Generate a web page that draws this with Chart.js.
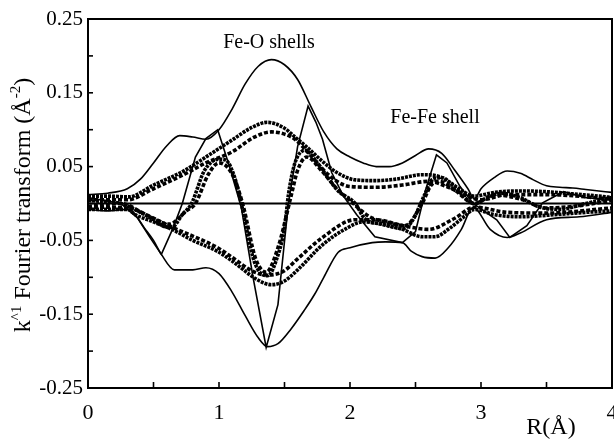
<!DOCTYPE html>
<html>
<head>
<meta charset="utf-8">
<title>Fourier transform</title>
<script src="https://cdn.jsdelivr.net/npm/chart.js@4.4.1/dist/chart.umd.min.js"></script>
<style>
    html, body { margin: 0; padding: 0; background: #fff; }
    #wrap { width: 614px; height: 441px; }
</style>
</head>
<body>
<div id="wrap"><canvas id="ft" width="614" height="441"></canvas></div>
<script>
// Values (R in Å, FT in Å^-2)

// thin outer envelope, upper (fit magnitude)
const thinUpperX = [0, 0.15, 0.3, 0.4, 0.5, 0.6, 0.7, 0.8, 0.9, 1.0, 1.1, 1.2, 1.3, 1.4, 1.5, 1.6, 1.7, 1.8, 1.9, 2.0, 2.1, 2.2, 2.3, 2.4, 2.5, 2.6, 2.7, 2.8, 2.9, 2.95, 3.0, 3.1, 3.2, 3.3, 3.4, 3.5, 3.6, 3.7, 3.8, 3.9, 4.0];
const thinUpperY = [0.012, 0.014, 0.02, 0.033, 0.055, 0.078, 0.092, 0.09, 0.087, 0.1, 0.128, 0.162, 0.186, 0.195, 0.188, 0.168, 0.132, 0.097, 0.074, 0.063, 0.055, 0.05, 0.05, 0.055, 0.065, 0.074, 0.068, 0.045, 0.02, 0.006, 0.02, 0.035, 0.044, 0.041, 0.032, 0.024, 0.022, 0.021, 0.019, 0.017, 0.015];

// thin outer envelope, lower
const thinLowerX = [0, 0.15, 0.3, 0.34, 0.43, 0.5, 0.56, 0.66, 0.8, 0.9, 1.0, 1.1, 1.2, 1.3, 1.37, 1.45, 1.55, 1.65, 1.73, 1.8, 1.91, 2.0, 2.17, 2.27, 2.4, 2.47, 2.55, 2.65, 2.75, 2.85, 2.94, 3.07, 3.2, 3.3, 3.5, 3.75, 4.0];
const thinLowerY = [-0.008, -0.01, -0.008, -0.011, -0.033, -0.05, -0.069, -0.09, -0.09, -0.087, -0.095, -0.12, -0.152, -0.182, -0.194, -0.19, -0.17, -0.145, -0.123, -0.1, -0.066, -0.06, -0.053, -0.052, -0.053, -0.065, -0.072, -0.074, -0.06, -0.035, -0.005, -0.035, -0.046, -0.04, -0.022, -0.018, -0.012];

// thin oscillating curve (fit imaginary part)
const thinOscX = [0, 0.25, 0.38, 0.47, 0.56, 0.65, 0.72, 0.82, 0.9, 0.99, 1.08, 1.17, 1.26, 1.36, 1.45, 1.53, 1.6, 1.68, 1.74, 1.79, 1.86, 1.95, 2.05, 2.19, 2.4, 2.5, 2.58, 2.66, 2.74, 2.84, 2.94, 3.12, 3.22, 3.35, 3.47, 3.63, 3.8, 4.0];
const thinOscY = [0.008, 0.0, -0.02, -0.045, -0.069, -0.033, 0.0, 0.063, 0.088, 0.1, 0.05, -0.005, -0.1, -0.195, -0.137, 0.0, 0.077, 0.132, 0.11, 0.087, 0.042, 0.01, -0.015, -0.045, -0.053, -0.038, 0.02, 0.066, 0.055, 0.023, 0.0, -0.022, -0.046, -0.03, 0.001, 0.016, 0.008, 0.005];

// thick dotted envelopes (data magnitude)
const thickUpper1X = [0, 0.15, 0.31, 0.5, 0.74, 0.9, 1.1, 1.25, 1.37, 1.5, 1.58, 1.68, 1.79, 1.9, 2.04, 2.2, 2.35, 2.55, 2.65, 2.75, 2.85, 2.95, 3.1, 3.3, 3.5, 3.7, 3.9, 4.0];
const thickUpper1Y = [0.01, 0.01, 0.009, 0.025, 0.045, 0.063, 0.086, 0.103, 0.11, 0.102, 0.09, 0.075, 0.057, 0.042, 0.032, 0.031, 0.033, 0.039, 0.038, 0.03, 0.018, 0.01, 0.015, 0.017, 0.016, 0.013, 0.01, 0.008];

const thickUpper2X = [0, 0.3, 0.5, 0.74, 0.9, 1.1, 1.27, 1.4, 1.5, 1.58, 1.7, 1.8, 1.9, 2.0, 2.2, 2.4, 2.6, 2.75, 2.9, 3.0, 3.2, 3.5, 4.0];
const thickUpper2Y = [0.005, 0.005, 0.02, 0.04, 0.055, 0.07, 0.09, 0.097, 0.094, 0.087, 0.065, 0.045, 0.03, 0.023, 0.022, 0.025, 0.03, 0.022, 0.01, 0.005, 0.012, 0.012, 0.006];

const thickLower1X = [0, 0.3, 0.36, 0.5, 0.64, 0.8, 0.99, 1.1, 1.3, 1.4, 1.5, 1.6, 1.79, 1.98, 2.1, 2.29, 2.4, 2.55, 2.65, 2.75, 2.87, 2.95, 3.1, 3.3, 3.5, 3.8, 4.0];
const thickLower1Y = [-0.008, -0.008, -0.015, -0.025, -0.035, -0.05, -0.065, -0.078, -0.104, -0.11, -0.105, -0.09, -0.056, -0.033, -0.025, -0.03, -0.035, -0.045, -0.045, -0.035, -0.018, -0.008, -0.015, -0.018, -0.016, -0.012, -0.01];

const thickLower2X = [0, 0.3, 0.5, 0.64, 0.99, 1.1, 1.26, 1.37, 1.49, 1.6, 1.79, 2.04, 2.2, 2.4, 2.6, 2.8, 2.95, 3.2, 3.5, 4.0];
const thickLower2Y = [-0.005, -0.006, -0.02, -0.032, -0.06, -0.073, -0.092, -0.097, -0.092, -0.075, -0.046, -0.022, -0.022, -0.03, -0.035, -0.02, -0.005, -0.012, -0.013, -0.006];

// thick dotted oscillating curves (data imaginary part)
const thickOscX = [0, 0.25, 0.4, 0.5, 0.6, 0.64, 0.72, 0.79, 0.89, 1.0, 1.05, 1.12, 1.17, 1.27, 1.37, 1.45, 1.5, 1.53, 1.58, 1.66, 1.75, 1.91, 2.04, 2.11, 2.25, 2.4, 2.47, 2.57, 2.63, 2.7, 2.8, 2.95, 3.05, 3.15, 3.3, 3.45, 3.6, 3.8, 4.0];
const thickOscY = [0.004, 0.0, -0.012, -0.022, -0.032, -0.032, -0.015, 0.0, 0.045, 0.06, 0.059, 0.035, 0.0, -0.079, -0.098, -0.07, -0.033, 0.012, 0.055, 0.072, 0.055, 0.017, 0.0, -0.02, -0.028, -0.034, -0.025, 0.012, 0.033, 0.035, 0.022, 0.0, 0.008, 0.014, 0.008, -0.005, -0.008, 0.0, 0.008];

const thickOsc2X = [0, 0.25, 0.45, 0.62, 0.75, 0.82, 0.92, 1.0, 1.1, 1.18, 1.28, 1.36, 1.45, 1.55, 1.6, 1.67, 1.78, 1.9, 2.0, 2.15, 2.3, 2.42, 2.55, 2.62, 2.68, 2.8, 2.95, 3.1, 3.3, 3.5, 3.7, 4.0];
const thickOsc2Y = [-0.004, 0.0, -0.016, -0.028, -0.01, 0.0, 0.04, 0.055, 0.04, 0.0, -0.075, -0.093, -0.06, 0.01, 0.045, 0.063, 0.045, 0.02, 0.004, -0.018, -0.026, -0.03, 0.0, 0.025, 0.03, 0.018, 0.0, 0.012, 0.006, -0.006, -0.004, 0.004];

const zeroX = [0, 4];
const zeroY = [0, 0];

// axis ticks
const xTickStep = 0.5;
const xLabelled = [0, 1, 2, 3, 4];
const yTickStep = 0.05;
const yLabelled = [0.25, 0.15, 0.05, -0.05, -0.15, -0.25];

const serif = '"Liberation Serif", "DejaVu Serif", serif';

function pts(xs, ys) {
    return xs.map((x, i) => ({ x: x, y: ys[i] }));
}

function thin(xs, ys, tension, width) {
    return {
        data: pts(xs, ys),
        borderColor: '#000',
        borderWidth: width || 1.6,
        pointRadius: 0,
        tension: tension,
        cubicInterpolationMode: tension ? 'monotone' : 'default'
    };
}

function thick(xs, ys, dash) {
    return {
        data: pts(xs, ys),
        borderColor: '#000',
        borderWidth: 3.6,
        borderDash: dash,
        pointRadius: 0,
        cubicInterpolationMode: 'monotone'
    };
}

// frame, inward ticks, axis title with superscripts and the two notes
const framePlugin = {
    id: 'frame',
    afterDraw(chart) {
        const { ctx, chartArea: a, scales: { x, y } } = chart;
        ctx.save();
        ctx.strokeStyle = '#000';
        ctx.lineWidth = 2;
        ctx.strokeRect(a.left, a.top, a.right - a.left, a.bottom - a.top);

        ctx.lineWidth = 1.6;
        x.ticks.forEach(t => {
            const px = x.getPixelForValue(t.value);
            ctx.beginPath();
            ctx.moveTo(px, a.bottom);
            ctx.lineTo(px, a.bottom - 6);
            ctx.stroke();
        });
        y.ticks.forEach(t => {
            const py = y.getPixelForValue(t.value);
            ctx.beginPath();
            ctx.moveTo(a.left, py);
            ctx.lineTo(a.left + 5, py);
            ctx.stroke();
        });

        ctx.fillStyle = '#000';
        ctx.textBaseline = 'middle';
        ctx.textAlign = 'center';
        ctx.font = '20px ' + serif;
        ctx.fillText('Fe-O shells', 269, 43);
        ctx.fillText('Fe-Fe shell', 435, 118);
        ctx.font = '24px ' + serif;
        ctx.fillText('R(Å)', 551, 428);

        // y axis title: k^1 Fourier transform (Å^-2)
        const parts = [
            { t: 'k', size: 24, dy: 0 },
            { t: '^1', size: 15, dy: -9 },
            { t: ' Fourier transform (Å', size: 24, dy: 0 },
            { t: '-2', size: 15, dy: -10 },
            { t: ')', size: 24, dy: 0 }
        ];
        let total = 0;
        parts.forEach(p => {
            ctx.font = p.size + 'px ' + serif;
            p.w = ctx.measureText(p.t).width;
            total += p.w;
        });
        ctx.translate(22, 205);
        ctx.rotate(-Math.PI / 2);
        ctx.textAlign = 'left';
        ctx.textBaseline = 'alphabetic';
        let cx = -total / 2;
        parts.forEach(p => {
            ctx.font = p.size + 'px ' + serif;
            ctx.fillText(p.t, cx, 8 + p.dy);
            cx += p.w;
        });
        ctx.restore();
    }
};

new Chart(document.getElementById('ft'), {
    type: 'line',
    data: {
        datasets: [
            thin(zeroX, zeroY, 0, 2.2),
            thin(thinUpperX, thinUpperY, 0.4),
            thin(thinLowerX, thinLowerY, 0.4),
            thin(thinOscX, thinOscY, 0),
            thick(thickUpper1X, thickUpper1Y, [3, 1]),
            thick(thickUpper2X, thickUpper2Y, [4, 2]),
            thick(thickLower1X, thickLower1Y, [3, 1]),
            thick(thickLower2X, thickLower2Y, [4, 2]),
            thick(thickOscX, thickOscY, [3, 1]),
            thick(thickOsc2X, thickOsc2Y, [4, 2])
        ]
    },
    options: {
        responsive: false,
        animation: false,
        events: [],
        layout: { padding: { top: 19, right: 2, left: 0, bottom: 0 } },
        plugins: {
            legend: { display: false },
            tooltip: { enabled: false }
        },
        scales: {
            x: {
                type: 'linear',
                min: 0,
                max: 4,
                grid: { display: false, drawTicks: false },
                border: { display: false },
                afterFit: s => {
                    s.height = 53;
                    s.paddingLeft = 0;
                    s.paddingRight = 0;
                },
                ticks: {
                    stepSize: xTickStep,
                    autoSkip: false,
                    maxRotation: 0,
                    padding: 12,
                    color: '#000',
                    font: { family: serif, size: 22 },
                    callback: v => xLabelled.some(l => Math.abs(l - v) < 1e-6) ? String(Math.round(v)) : ''
                }
            },
            y: {
                type: 'linear',
                min: -0.25,
                max: 0.25,
                grid: { display: false, drawTicks: false },
                border: { display: false },
                afterFit: s => {
                    s.width = 88;
                    s.paddingTop = 0;
                    s.paddingBottom = 0;
                },
                ticks: {
                    stepSize: yTickStep,
                    autoSkip: false,
                    padding: 5,
                    color: '#000',
                    font: { family: serif, size: 21 },
                    callback: v => yLabelled.some(l => Math.abs(l - v) < 1e-6) ? v.toFixed(2) : ''
                }
            }
        }
    },
    plugins: [framePlugin]
});
</script>
</body>
</html>
